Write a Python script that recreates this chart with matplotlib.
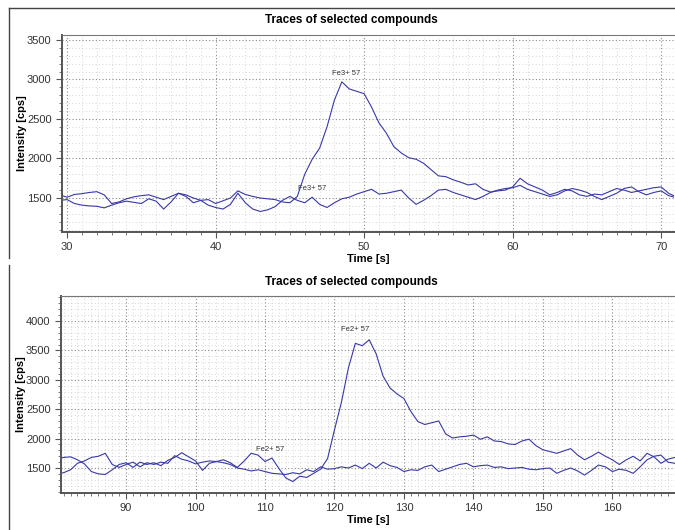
import numpy as np
import matplotlib.pyplot as plt
from matplotlib.lines import Line2D
from matplotlib.ticker import MultipleLocator

plt.rcParams['font.family'] = ['Liberation Sans', 'DejaVu Sans']

# ==== Data ====
# top panel, sampled every 0.5 s from 29.5 s to 71 s
t_top = np.arange(29.5, 71.01, 0.5)
fe3_peak = [1470, 1480, 1430, 1410, 1400, 1395, 1375, 1410, 1440, 1460,
            1445, 1430, 1490, 1460, 1360, 1450, 1560, 1520, 1440, 1470,
            1480, 1430, 1465, 1500, 1590, 1545, 1520, 1500, 1490, 1480,
            1450, 1440, 1520, 1800, 1990, 2130, 2400, 2740, 2970, 2880,
            2850, 2820, 2650, 2450, 2320, 2150, 2070, 2010, 1990, 1940,
            1860, 1780, 1770, 1730, 1700, 1665, 1680, 1610, 1575, 1590,
            1600, 1640, 1750, 1680, 1640, 1600, 1540, 1570, 1610, 1590,
            1540, 1520, 1550, 1540, 1580, 1620, 1600, 1570, 1590, 1610,
            1630, 1640, 1560, 1515]
fe3_base = [1540, 1510, 1545, 1555, 1570, 1580, 1540, 1430, 1450, 1490,
            1515, 1530, 1540, 1510, 1480, 1520, 1560, 1540, 1500, 1470,
            1410, 1380, 1360, 1420, 1560, 1440, 1360, 1330, 1350, 1390,
            1470, 1520, 1470, 1440, 1510, 1420, 1380, 1440, 1490, 1510,
            1550, 1580, 1610, 1550, 1560, 1580, 1600, 1500, 1420, 1470,
            1530, 1600, 1610, 1570, 1540, 1510, 1480, 1520, 1570, 1600,
            1620, 1630, 1660, 1610, 1580, 1550, 1520, 1540, 1590, 1620,
            1600, 1570, 1520, 1480, 1520, 1560, 1620, 1640, 1580, 1540,
            1570, 1590, 1530, 1505]

# bottom panel, sampled every 1 s from 80 s to 169 s
t_bot = np.arange(80, 170, 1)
fe2_peak = [1650, 1680, 1690, 1640, 1570, 1440, 1400, 1390, 1470, 1560,
            1590, 1510, 1600, 1560, 1590, 1540, 1630, 1680, 1760, 1690,
            1620, 1460, 1580, 1610, 1640, 1590, 1510, 1620, 1750, 1720,
            1610, 1670, 1490, 1330, 1270, 1360, 1340, 1410, 1480, 1660,
            2150, 2620, 3200, 3620, 3580, 3680, 3440, 3060, 2860, 2760,
            2680, 2460, 2290, 2240, 2270, 2300, 2080, 2010, 2030, 2040,
            2060, 1990, 2030, 1960, 1950, 1910, 1900, 1960, 1990, 1880,
            1810, 1780, 1750, 1790, 1830, 1720, 1640, 1700, 1770, 1700,
            1640, 1560, 1640, 1700, 1620, 1750, 1690, 1580, 1650, 1680]
fe2_base = [1400, 1420, 1470, 1580, 1620, 1680, 1700, 1750, 1560, 1510,
            1560, 1600, 1520, 1590, 1560, 1600, 1580, 1710, 1650, 1620,
            1570, 1600, 1620, 1610, 1590, 1560, 1500, 1480, 1450, 1470,
            1440, 1410, 1400, 1390, 1420, 1400, 1470, 1440, 1520, 1480,
            1490, 1520, 1500, 1550, 1490, 1580, 1500, 1600, 1540, 1510,
            1440, 1470, 1460, 1520, 1550, 1440, 1480, 1520, 1560, 1580,
            1520, 1540, 1550, 1510, 1520, 1490, 1500, 1510, 1480, 1470,
            1490, 1500, 1410, 1460, 1500, 1450, 1380, 1460, 1550, 1520,
            1440, 1480, 1460, 1410, 1520, 1640, 1700, 1720, 1600, 1580]

title = "Traces of selected compounds"
line_color = "#3838aa"


def style_axes(ax, major_x, minor_x, major_y):
    ax.xaxis.set_major_locator(MultipleLocator(major_x))
    ax.xaxis.set_minor_locator(MultipleLocator(minor_x))
    ax.yaxis.set_major_locator(MultipleLocator(major_y))
    ax.yaxis.set_minor_locator(MultipleLocator(100))
    ax.grid(which="major", color="#8a8a8a", linestyle=(0, (1, 2)), linewidth=0.8)
    ax.grid(which="minor", color="#c8c8c8", linestyle=(0, (1, 3)), linewidth=0.6)
    ax.set_axisbelow(True)
    for side in ("left", "bottom"):
        ax.spines[side].set_color("#555555")
        ax.spines[side].set_linewidth(1.4)
    ax.spines["top"].set_color("#777777")
    ax.spines["top"].set_linewidth(0.8)
    ax.spines["right"].set_visible(False)
    ax.tick_params(which="major", length=4, width=0.8, color="#555555",
                   labelsize=8, labelcolor="#333333")
    ax.tick_params(which="minor", length=2, width=0.6, color="#666666")
    ax.set_xlabel("Time [s]", fontsize=8, fontweight="bold", labelpad=1)
    ax.set_ylabel("Intensity [cps]", fontsize=8, fontweight="bold")
    ax.yaxis.set_label_coords(-0.057, 0.5)


fig = plt.figure(figsize=(6.75, 5.3), dpi=100)

# ==== Top panel ====
ax1 = fig.add_axes([0.0919, 0.5623, 0.907, 0.3717])
ax1.plot(t_top, fe3_peak, color=line_color, linewidth=0.8)
ax1.plot(t_top, fe3_base, color=line_color, linewidth=0.8)
ax1.set_xlim(29.66, 70.88)
ax1.set_ylim(1070, 3563)
style_axes(ax1, 10, 1, 500)
ax1.text(48.8, 3060, "Fe3+ 57", fontsize=5.5, color="#333333", ha="center")
ax1.text(46.5, 1600, "Fe3+ 57", fontsize=5.5, color="#333333", ha="center")
fig.text(0.52, 1 - 20 / 530, title, fontsize=8.5, fontweight="bold",
         ha="center", va="center")

# ==== Bottom panel ====
ax2 = fig.add_axes([0.0904, 0.0698, 0.909, 0.3717])
ax2.plot(t_bot, fe2_peak, color=line_color, linewidth=0.8)
ax2.plot(t_bot, fe2_base, color=line_color, linewidth=0.8)
ax2.set_xlim(80.63, 168.96)
ax2.set_ylim(1075, 4425)
style_axes(ax2, 10, 1, 500)
ax2.text(123, 3830, "Fe2+ 57", fontsize=5.5, color="#333333", ha="center")
ax2.text(110.7, 1790, "Fe2+ 57", fontsize=5.5, color="#333333", ha="center")
fig.text(0.52, 1 - 282 / 530, title, fontsize=8.5, fontweight="bold",
         ha="center", va="center")

# ==== Panel frames ====
frame = dict(color="#444444", linewidth=1.0)
fig.add_artist(Line2D([9 / 675, 1], [1 - 8 / 530, 1 - 8 / 530], **frame))
fig.add_artist(Line2D([9 / 675, 9 / 675], [1 - 8 / 530, 1 - 258 / 530], **frame))
fig.add_artist(Line2D([9 / 675, 9 / 675], [1 - 265 / 530, 0], **frame))

fig.savefig("out.png", dpi=100)
